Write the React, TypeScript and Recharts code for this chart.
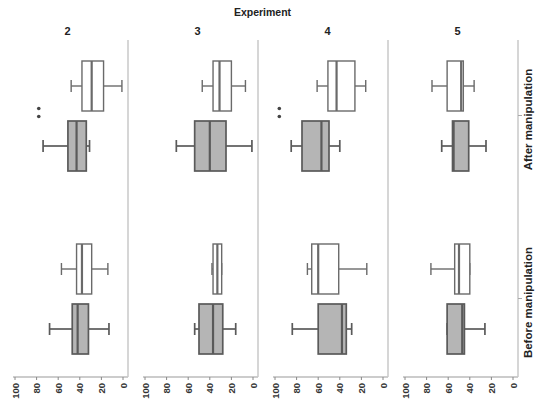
import { ComposedChart, Bar, XAxis, YAxis, ReferenceDot } from 'recharts';

const experiments = ['2', '3', '4', '5'];
const phases = ['After manipulation', 'Before manipulation'];
const xTicks = [0, 20, 40, 60, 80, 100];

// [min, q1, median, q3, max] per experiment, for After / Before
const whiteBoxes = [
  [[1, 18, 29, 38, 48], [14, 29, 38, 43, 57]],
  [[7, 20, 31, 37, 47], [29, 29, 33, 37, 38]],
  [[16, 26, 43, 51, 61], [15, 41, 60, 66, 70]],
  [[36, 46, 48, 61, 75], [40, 40, 50, 54, 76]],
];
const greyBoxes = [
  [[31, 34, 43, 51, 74], [13, 32, 42, 47, 68]],
  [[1, 25, 40, 54, 71], [16, 28, 37, 50, 54]],
  [[40, 50, 57, 75, 85], [29, 34, 38, 60, 84]],
  [[25, 41, 55, 56, 66], [26, 45, 47, 61, 61]],
];
// extreme values marked next to the After grey box (null = none)
const outliers = [78, null, 96, null];

const font = '"Liberation Sans", Arial, sans-serif';

const makeBox = (key: 'white' | 'grey', fill: string, stroke: string, sw: number) => (props: any) => {
  const { x, y, width, height, payload } = props;
  const s: number[] = payload[key];
  const [lo, q1, med, q3, hi] = s;
  // bar goes from lo to hi; axis is reversed so lo is on the right
  let x0 = x;
  let w = width;
  if (w > 0) {
    x0 = x + w;
    w = -w;
  }
  const px = (v: number) => (hi === lo ? x0 : x0 + ((v - lo) / (hi - lo)) * w);
  const cy = y + height / 2;
  const left = Math.min(px(q1), px(q3));
  return (
    <g>
      <line x1={px(lo)} x2={px(q1)} y1={cy} y2={cy} stroke={stroke} strokeWidth={sw} />
      <line x1={px(q3)} x2={px(hi)} y1={cy} y2={cy} stroke={stroke} strokeWidth={sw} />
      <line x1={px(lo)} x2={px(lo)} y1={cy - 6} y2={cy + 6} stroke={stroke} strokeWidth={sw} />
      <line x1={px(hi)} x2={px(hi)} y1={cy - 6} y2={cy + 6} stroke={stroke} strokeWidth={sw} />
      <rect x={left} y={y} width={Math.abs(px(q3) - px(q1))} height={height} fill={fill} stroke={stroke} strokeWidth={sw} />
      <line x1={px(med)} x2={px(med)} y1={y} y2={y + height} stroke={stroke} strokeWidth={2.2} />
    </g>
  );
};

const WhiteBox = makeBox('white', '#ffffff', '#6a6a6a', 1.4);
const GreyBox = makeBox('grey', '#b5b5b5', '#5a5a5a', 1.7);

const XTick = (props: any) => {
  const { x, y, payload } = props;
  return (
    <text
      x={x}
      y={y + 1}
      transform={`rotate(-90 ${x} ${y + 1})`}
      textAnchor="end"
      dominantBaseline="central"
      fontSize={9.5}
      fontWeight="bold"
      fontFamily={font}
      fill="#333"
    >
      {payload.value}
    </text>
  );
};

const RowTick = (props: any) => {
  const { x, y, payload } = props;
  const tx = x + 4;
  const ty = y + 4;
  return (
    <text
      x={tx}
      y={ty}
      transform={`rotate(-90 ${tx} ${ty})`}
      textAnchor="middle"
      dominantBaseline="central"
      fontSize={11.5}
      fontWeight="bold"
      fontFamily={font}
      fill="#222"
    >
      {payload.value}
    </text>
  );
};

const TwinDots = (props: any) => {
  const { cx, cy } = props;
  return (
    <g fill="#444">
      <circle cx={cx} cy={cy - 7} r={1.8} />
      <circle cx={cx} cy={cy + 1} r={1.8} />
    </g>
  );
};

function Panel({ index }: { index: number }) {
  const last = index === experiments.length - 1;
  const data = phases.map((phase, j) => ({
    phase,
    white: whiteBoxes[index][j],
    grey: greyBoxes[index][j],
  }));
  const out = outliers[index];
  return (
    <div style={{ position: 'absolute', left: 130 * index, top: 0 }}>
      <ComposedChart
        layout="vertical"
        width={last ? 145 : 130}
        height={401}
        data={data}
        margin={{ top: 40, right: last ? 0 : 1, bottom: 0, left: 13 }}
        barSize={50}
        barGap={10}
      >
        <XAxis
          type="number"
          domain={[0, 100]}
          reversed
          ticks={xTicks}
          interval={0}
          height={24}
          padding={{ left: 2, right: 5 }}
          axisLine={{ stroke: '#999' }}
          tickLine={{ stroke: '#888' }}
          tickSize={3}
          tickMargin={2}
          tick={<XTick />}
        />
        <YAxis
          type="category"
          dataKey="phase"
          orientation="right"
          width={last ? 17 : 1}
          padding={{ top: -16, bottom: -13 }}
          axisLine={{ stroke: '#c8c8c8', strokeWidth: 1.5 }}
          tickLine={last ? { stroke: '#aaa' } : false}
          tickSize={4}
          tick={last ? <RowTick /> : false}
        />
        <Bar dataKey={(d: any) => [d.white[0], d.white[4]]} shape={WhiteBox} isAnimationActive={false} />
        <Bar dataKey={(d: any) => [d.grey[0], d.grey[4]]} shape={GreyBox} isAnimationActive={false} />
        {out !== null && (
          <ReferenceDot x={out} y={phases[0]} r={2} shape={TwinDots} />
        )}
      </ComposedChart>
    </div>
  );
}

export default function App() {
  return (
    <div
      style={{
        position: 'absolute',
        left: 0,
        top: 0,
        width: 535,
        height: 401,
        background: '#fff',
        fontFamily: font,
      }}
    >
      <div
        style={{
          position: 'absolute',
          left: 0,
          width: 525,
          top: 6,
          textAlign: 'center',
          fontSize: 10.5,
          fontWeight: 'bold',
          color: '#222',
        }}
      >
        Experiment
      </div>
      {experiments.map((e, i) => (
        <div
          key={e}
          style={{
            position: 'absolute',
            left: 130 * i + 11,
            width: 113,
            top: 25,
            textAlign: 'center',
            fontSize: 11,
            fontWeight: 'bold',
            color: '#222',
          }}
        >
          {e}
        </div>
      ))}
      {experiments.map((e, i) => (
        <Panel key={e} index={i} />
      ))}
    </div>
  );
}
